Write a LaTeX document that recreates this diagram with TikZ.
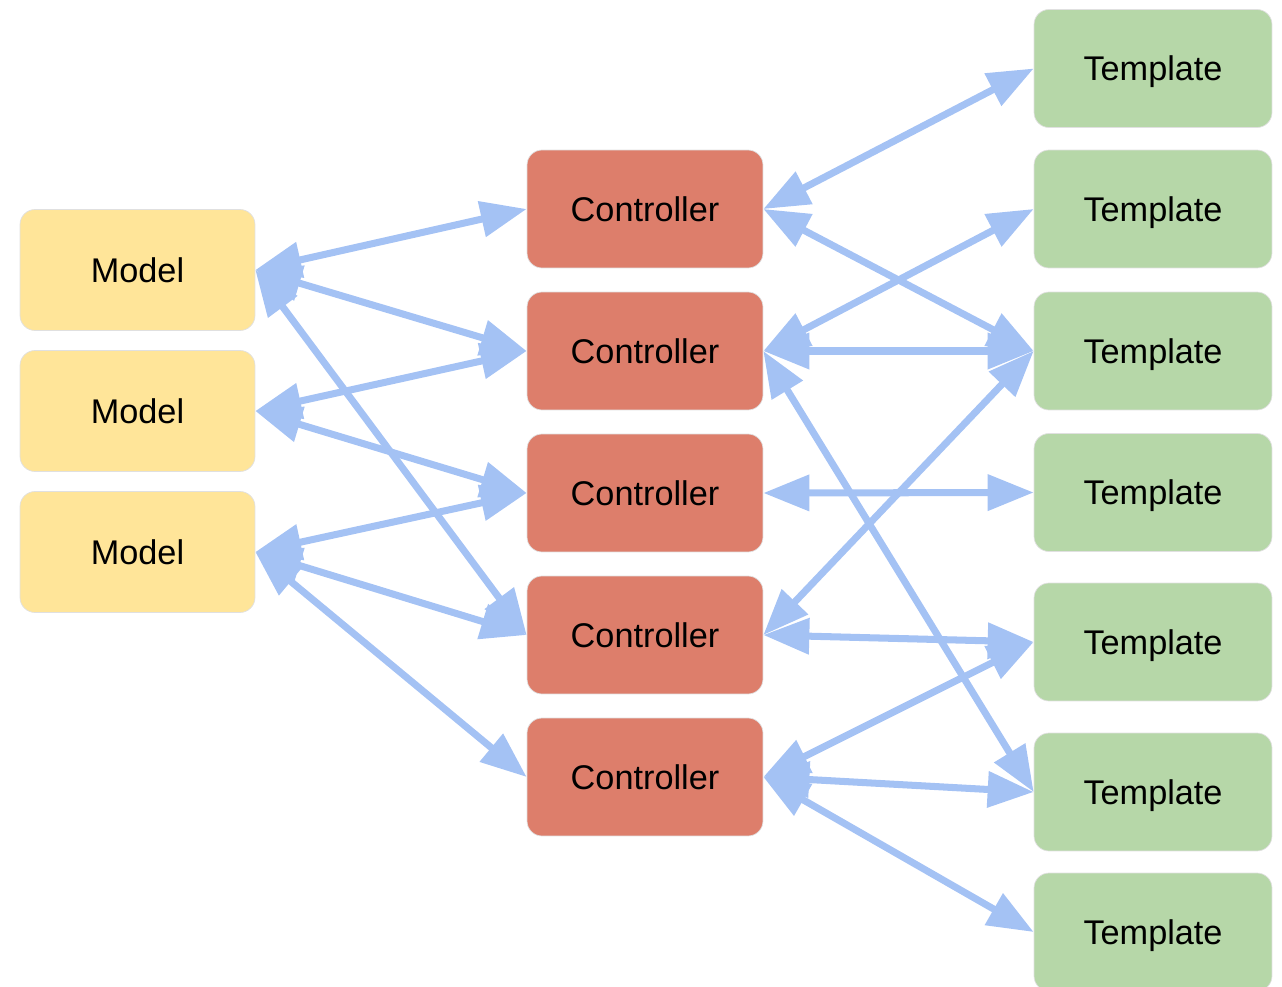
\documentclass[tikz,border=0pt]{standalone}
\usepackage{fontspec}
\setmainfont{Liberation Sans}
\usetikzlibrary{arrows.meta}
\definecolor{modelfill}{HTML}{FFE599}
\definecolor{ctrlfill}{HTML}{DD7E6B}
\definecolor{tmplfill}{HTML}{B6D7A8}
\definecolor{linkblue}{HTML}{A4C2F4}
\begin{document}
\begin{tikzpicture}[x=0.02cm, y=-0.02cm,
  box/.style={rounded corners=0.3cm, draw=black!12, line width=0.4pt, inner sep=0pt,
    font=\fontsize{19.5}{23}\selectfont, text height=14pt, text depth=0pt},
  model/.style={box, fill=modelfill, minimum width=4.7cm, minimum height=2.42cm},
  ctrl/.style={box, fill=ctrlfill, minimum width=4.72cm, minimum height=2.36cm},
  tmpl/.style={box, fill=tmplfill, minimum width=4.76cm, minimum height=2.36cm},
  link/.style={draw=linkblue, line width=4pt,
    {Triangle[length=0.92cm,width=0.7cm]}-{Triangle[length=0.92cm,width=0.7cm]}}]

\useasboundingbox (0,0) rectangle (1282,987);

\foreach \n/\y in {1/270,2/411,3/552} {\node[model] (m\n) at (137.5,\y) {Model};}
\foreach \n/\y in {1/209,2/351,3/493,4/635,5/777} {\node[ctrl] (c\n) at (645,\y) {Controller};}
\foreach \n/\y in {1/68.5,2/209,3/351,4/492.5,5/642,6/792,7/932} {\node[tmpl] (t\n) at (1153,\y) {Template};}

\foreach \a/\b in {m1/c1,m1/c2,m1/c4,m2/c2,m2/c3,m3/c3,m3/c4,m3/c5} {\draw[link] (\a.east) -- (\b.west);}
\foreach \a/\b in {c1/t1,c1/t3,c2/t2,c2/t3,c2/t6,c3/t4,c4/t3,c4/t5,c5/t5,c5/t6,c5/t7} {\draw[link] (\a.east) -- (\b.west);}

\end{tikzpicture}
\end{document}
